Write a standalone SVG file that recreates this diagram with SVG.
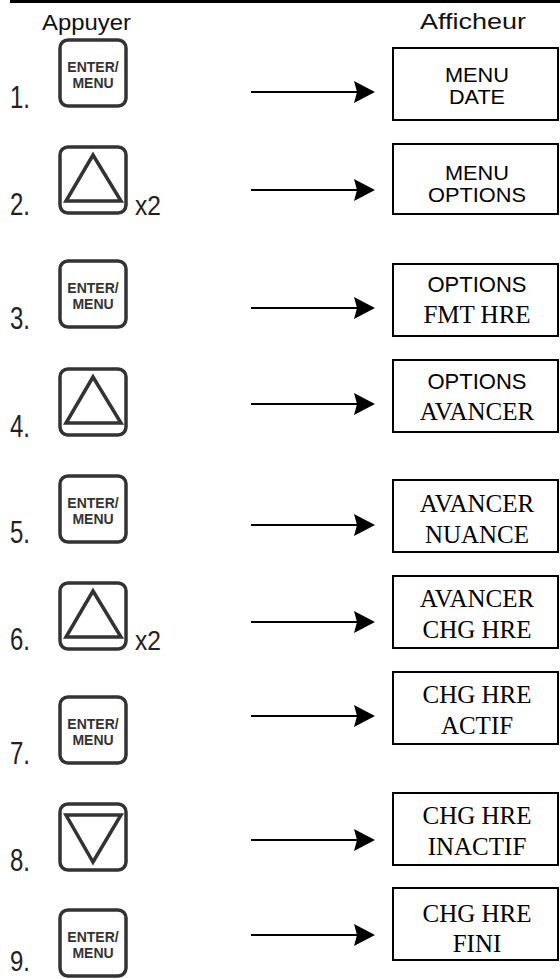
<svg xmlns="http://www.w3.org/2000/svg" width="560" height="979" viewBox="0 0 560 979">
<style>
.hdr{font-family:"Liberation Sans",Arial,sans-serif;font-size:22px;fill:#111}
.num{font-family:"Liberation Sans",Arial,sans-serif;font-size:31px;fill:#222}
.x2{font-family:"Liberation Sans",Arial,sans-serif;font-size:27px;fill:#222}
.btn{fill:#fff;stroke:#333;stroke-width:3.5}
.tri{fill:none;stroke:#333;stroke-width:3.5;stroke-linejoin:miter}
.bt{font-family:"Liberation Sans",Arial,sans-serif;font-size:14px;font-weight:bold;fill:#333;text-anchor:middle}
.box{fill:#fff;stroke:#000;stroke-width:2}
.ss{font-family:"Liberation Sans",Arial,sans-serif;font-size:22px;fill:#000;text-anchor:middle}
.sm{font-family:"Liberation Sans",Arial,sans-serif;font-size:20px;fill:#000;text-anchor:middle}
.sf{font-family:"Liberation Serif","Times New Roman",serif;font-size:25px;fill:#000;text-anchor:middle}
.arr{stroke:#000;stroke-width:2.2;fill:none;marker-end:url(#ah)}
</style>
<defs>
<marker id="ah" markerUnits="userSpaceOnUse" viewBox="0 0 24 24" markerWidth="24" markerHeight="24" refX="3" refY="12" orient="auto">
<path d="M0,1 L21,12 L0,23 L3,12 Z" fill="#000"/>
</marker>
<g id="enter">
<rect class="btn" x="60" y="2" width="66" height="66" rx="8"/>
<text class="bt" x="93" y="34">ENTER/</text>
<text class="bt" x="93" y="50">MENU</text>
</g>
<g id="up">
<rect class="btn" x="60" y="2" width="66" height="66" rx="8"/>
<path class="tri" d="M93,10 L66,56 L121,56 Z"/>
</g>
<g id="down">
<rect class="btn" x="60" y="2" width="66" height="66" rx="8"/>
<path class="tri" d="M66,13 L121,13 L93,60 Z"/>
</g>
</defs>
<rect x="10" y="0" width="550" height="3" fill="#000"/>
<text class="hdr" x="42" y="30" textLength="89" lengthAdjust="spacingAndGlyphs">Appuyer</text>
<text class="hdr" x="420" y="29" textLength="106" lengthAdjust="spacingAndGlyphs">Afficheur</text>

<g id="step1">
<text class="num" x="10" y="108" textLength="20" lengthAdjust="spacingAndGlyphs">1.</text>
<use href="#enter" y="38"/>
</g>
<g id="step2">
<text class="num" x="10" y="215" textLength="20" lengthAdjust="spacingAndGlyphs">2.</text>
<use href="#up" y="145"/>
<text class="x2" x="135" y="215" textLength="26" lengthAdjust="spacingAndGlyphs">x2</text>
</g>
<g id="step3">
<text class="num" x="10" y="329" textLength="20" lengthAdjust="spacingAndGlyphs">3.</text>
<use href="#enter" y="259"/>
</g>
<g id="step4">
<text class="num" x="10" y="437" textLength="20" lengthAdjust="spacingAndGlyphs">4.</text>
<use href="#up" y="367"/>
</g>
<g id="step5">
<text class="num" x="10" y="543" textLength="20" lengthAdjust="spacingAndGlyphs">5.</text>
<use href="#enter" y="474"/>
</g>
<g id="step6">
<text class="num" x="10" y="650" textLength="20" lengthAdjust="spacingAndGlyphs">6.</text>
<use href="#up" y="581"/>
<text class="x2" x="135" y="650" textLength="26" lengthAdjust="spacingAndGlyphs">x2</text>
</g>
<g id="step7">
<text class="num" x="10" y="764" textLength="20" lengthAdjust="spacingAndGlyphs">7.</text>
<use href="#enter" y="695"/>
</g>
<g id="step8">
<text class="num" x="10" y="871" textLength="20" lengthAdjust="spacingAndGlyphs">8.</text>
<use href="#down" y="802"/>
</g>
<g id="step9">
<text class="num" x="10" y="971" style="font-size:30px" textLength="20" lengthAdjust="spacingAndGlyphs">9.</text>
<use href="#enter" y="908"/>
</g>

<g id="display1">
<rect class="box" x="393" y="48" width="165" height="72"/>
<text class="sm" x="477" y="82" textLength="64" lengthAdjust="spacingAndGlyphs">MENU</text>
<text class="sm" x="477" y="104" textLength="56" lengthAdjust="spacingAndGlyphs">DATE</text>
</g>
<g id="display2">
<rect class="box" x="393" y="144" width="165" height="70"/>
<text class="sm" x="477" y="180" textLength="64" lengthAdjust="spacingAndGlyphs">MENU</text>
<text class="sm" x="477" y="202" textLength="98" lengthAdjust="spacingAndGlyphs">OPTIONS</text>
</g>
<g id="display3">
<rect class="box" x="393" y="264" width="165" height="72"/>
<text class="ss" x="477" y="292">OPTIONS</text>
<text class="sf" x="477" y="323">FMT HRE</text>
</g>
<g id="display4">
<rect class="box" x="393" y="360" width="165" height="72"/>
<text class="ss" x="477" y="389">OPTIONS</text>
<text class="sf" x="477" y="420">AVANCER</text>
</g>
<g id="display5">
<rect class="box" x="393" y="480" width="165" height="72"/>
<text class="sf" x="477" y="512">AVANCER</text>
<text class="sf" x="477" y="543">NUANCE</text>
</g>
<g id="display6">
<rect class="box" x="393" y="576" width="165" height="72"/>
<text class="sf" x="477" y="607">AVANCER</text>
<text class="sf" x="477" y="638">CHG HRE</text>
</g>
<g id="display7">
<rect class="box" x="393" y="672" width="165" height="72"/>
<text class="sf" x="477" y="703">CHG HRE</text>
<text class="sf" x="477" y="734">ACTIF</text>
</g>
<g id="display8">
<rect class="box" x="393" y="793" width="165" height="72"/>
<text class="sf" x="477" y="824">CHG HRE</text>
<text class="sf" x="477" y="855">INACTIF</text>
</g>
<g id="display9">
<rect class="box" x="393" y="888" width="165" height="72"/>
<text class="sf" x="477" y="922">CHG HRE</text>
<text class="sf" x="477" y="952">FINI</text>
</g>

<g id="connectors">
<line class="arr" x1="251" y1="92" x2="357" y2="92"/>
<line class="arr" x1="251" y1="190" x2="357" y2="190"/>
<line class="arr" x1="251" y1="308" x2="357" y2="308"/>
<line class="arr" x1="251" y1="404" x2="357" y2="404"/>
<line class="arr" x1="251" y1="525" x2="357" y2="525"/>
<line class="arr" x1="251" y1="622" x2="357" y2="622"/>
<line class="arr" x1="251" y1="716" x2="357" y2="716"/>
<line class="arr" x1="251" y1="840" x2="357" y2="840"/>
<line class="arr" x1="251" y1="935" x2="357" y2="935"/>
</g>
</svg>
